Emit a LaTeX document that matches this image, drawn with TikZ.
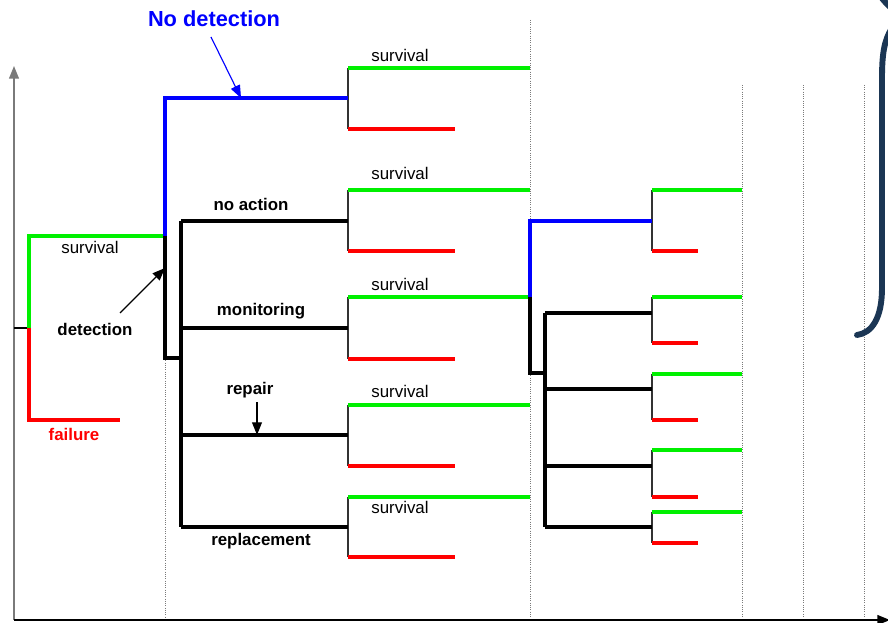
\documentclass[tikz,border=0pt]{standalone}
\usepackage{fontspec}
\setmainfont{Liberation Sans}
\usetikzlibrary{arrows.meta}
\definecolor{DTGreen}{HTML}{00F000}
\definecolor{DTRed}{HTML}{FF0000}
\definecolor{DTBlue}{HTML}{0000FF}
\definecolor{DTNavy}{HTML}{1B3654}
\definecolor{DTGrey}{HTML}{7A7A7A}

\tikzset{
  surv/.style={DTGreen,line width=2.4pt},
  fail/.style={DTRed,line width=2.4pt},
  nodet/.style={DTBlue,line width=2.4pt},
  act/.style={black,line width=2.4pt},
  stem/.style={black!80,line width=0.8pt},
  grid/.style={DTGrey,line width=0.6pt,densely dotted},
  lbl/.style={inner sep=0pt,font=\fontsize{12}{14}\selectfont},
  blbl/.style={inner sep=0pt,font=\fontsize{12}{14}\selectfont\bfseries},
  tip/.style={-{Triangle[length=9pt,width=7pt]},line width=0.8pt}
}

% chance node: name, x, y of survival, y of failure, end of survival, end of failure
\newcommand{\chancenode}[6]{%
  \coordinate (#1g) at (#2,#3);
  \coordinate (#1r) at (#2,#4);
  \coordinate (#1ge) at (#5,#3);
  \coordinate (#1re) at (#6,#4);
  \draw[stem] (#1g) -- (#1r);
  \draw[surv] (#1g) -- (#1ge);
  \draw[fail] (#1r) -- (#1re);
}

\begin{document}
\begin{tikzpicture}[x=0.025cm,y=-0.025cm]
\path[use as bounding box] (0,0) rectangle (888,623);

% time grid
\draw[grid] (165,358) -- (165,618);
\draw[grid] (530,20) -- (530,618);
\draw[grid] (742,85) -- (742,618);
\draw[grid] (803,85) -- (803,618);
\draw[grid] (864,85) -- (864,618);

% axes
\coordinate (origin) at (14,620);
\coordinate (ytop) at (14,66);
\coordinate (xend) at (890,620);
\draw[DTGrey,line width=1.1pt,-{Triangle[length=9pt,width=7pt]}] (origin) -- (ytop);
\draw[black,line width=1.1pt,-{Triangle[length=9pt,width=7pt]}] (origin) -- (xend);

% first stage
\coordinate (tick) at (14,328);
\coordinate (root) at (29,328);
\coordinate (s0) at (29,236);
\coordinate (f0) at (29,420);
\coordinate (dec) at (165,236);
\coordinate (f0e) at (120,420);
\draw[black,line width=0.8pt] (tick) -- (root);
\draw[surv] (root) -- (s0) -- (dec);
\draw[fail] (root) -- (f0) -- (f0e);
\node[lbl] (surv0) at (90,247) {survival};
\node[blbl,DTRed] (fail0) at (74,434) {failure};
\node[blbl] (detect) at (95,329) {detection};

% decision on detection
\coordinate (nd) at (165,98);
\coordinate (dt) at (165,358);
\coordinate (dtj) at (181,358);
\chancenode{c1}{348}{68}{129}{530}{455}
\chancenode{c2}{348}{190}{251}{530}{455}
\chancenode{c3}{348}{297}{359}{530}{455}
\chancenode{c4}{348}{405}{466}{530}{455}
\chancenode{c5}{348}{497}{557}{530}{455}
\coordinate (c1) at (348,98);
\coordinate (c2) at (348,221);
\coordinate (c3) at (348,328);
\coordinate (c4) at (348,435);
\coordinate (c5) at (348,527);
\draw[nodet] (dec) -- (nd) -- (c1);
\draw[act] (dec) -- (dt) -- (dtj);
\coordinate (a1) at (181,221);
\coordinate (a2) at (181,328);
\coordinate (a3) at (181,435);
\coordinate (a4) at (181,527);
\draw[act] (a1) -- (a4);
\draw[act] (a1) -- (c2);
\draw[act] (a2) -- (c3);
\draw[act] (a3) -- (c4);
\draw[act] (a4) -- (c5);

\node[blbl,DTBlue,font=\fontsize{15.5}{17}\selectfont\bfseries] (nodetect) at (214,19) {No detection};
\node[blbl] (noact) at (251,204) {no action};
\node[blbl] (monit) at (261,311) {monitoring};
\node[blbl] (repair) at (250,390) {repair};
\node[blbl] (replace) at (261,541) {replacement};
\node[lbl] (sv1) at (400,55) {survival};
\node[lbl] (sv2) at (400,173) {survival};
\node[lbl] (sv3) at (400,284) {survival};
\node[lbl] (sv4) at (400,391) {survival};
\node[lbl] (sv5) at (400,507) {survival};

% arrows to the branches
\coordinate (ndtip) at (241,98);
\coordinate (dttip) at (165,268);
\coordinate (reptip) at (257,435);
\draw[DTBlue,tip] (211,37) -- (ndtip);
\draw[black,tip] (120,313) -- (dttip);
\draw[black,tip] (257,402) -- (reptip);

% second decision, after monitoring survives
\coordinate (m0) at (530,297);
\coordinate (mnd) at (530,221);
\coordinate (mdt) at (530,373);
\coordinate (mdtj) at (545,373);
\chancenode{d1}{652}{190}{251}{742}{698}
\chancenode{d2}{652}{297}{343}{742}{698}
\chancenode{d3}{652}{374}{420}{742}{698}
\chancenode{d4}{652}{450}{497}{742}{698}
\chancenode{d5}{652}{512}{543}{742}{698}
\coordinate (d1) at (652,221);
\coordinate (d2) at (652,313);
\coordinate (d3) at (652,389);
\coordinate (d4) at (652,466);
\coordinate (d5) at (652,527);
\draw[nodet] (m0) -- (mnd) -- (d1);
\draw[act] (m0) -- (mdt) -- (mdtj);
\coordinate (b1) at (545,313);
\coordinate (b2) at (545,389);
\coordinate (b3) at (545,466);
\coordinate (b4) at (545,527);
\draw[act] (b1) -- (b4);
\draw[act] (b1) -- (d2);
\draw[act] (b2) -- (d3);
\draw[act] (b3) -- (d4);
\draw[act] (b4) -- (d5);

% bracket at the right edge
\draw[DTNavy,line width=4.2pt] (881,-3) .. controls (885,2) .. (891,8);
\draw[DTNavy,line width=4.2pt,line cap=round] (892,28) .. controls (884,40) and (882,55) .. (882,78)
  -- (882,288) .. controls (882,318) and (872,333) .. (857,335);
\end{tikzpicture}
\end{document}
